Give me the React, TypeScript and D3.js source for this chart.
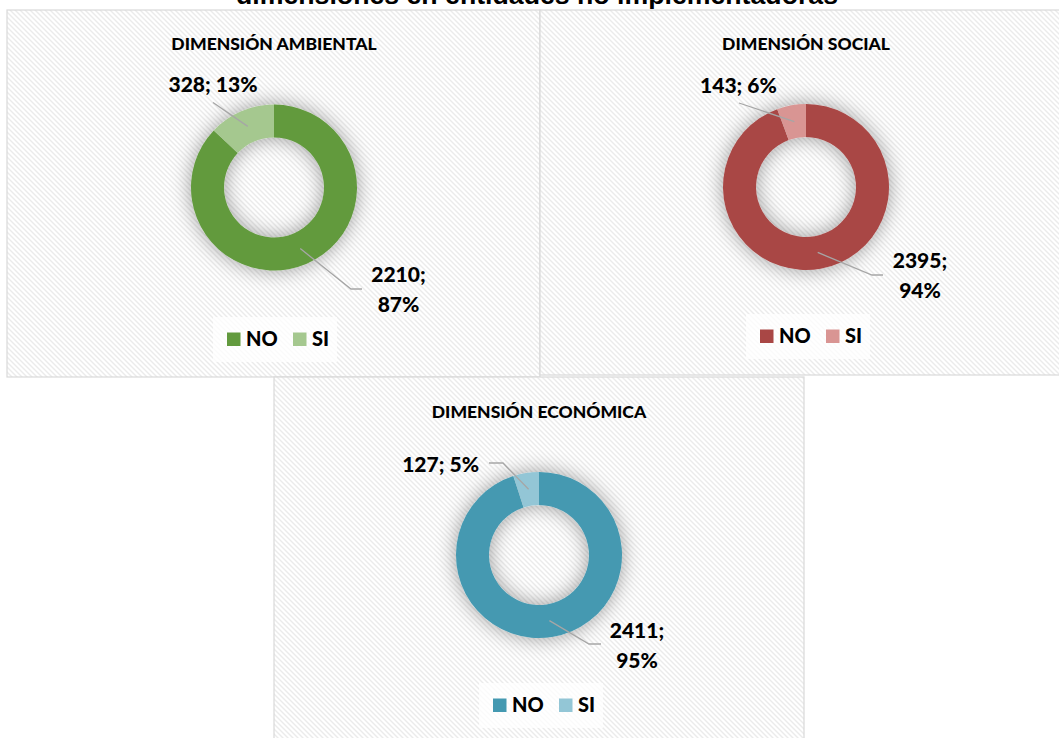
import * as d3 from "d3";

// Chart data
const mainTitle = "dimensiones en entidades no implementadoras";
const categories = ["NO", "SI"];
const panelTitles = ["DIMENSIÓN AMBIENTAL", "DIMENSIÓN SOCIAL", "DIMENSIÓN ECONÓMICA"];
const ambientalValues = [2210, 328];
const socialValues = [2395, 143];
const economicaValues = [2411, 127];
const ambientalColors = ["#629A3E", "#A5C88F"];
const socialColors = ["#A94745", "#D99593"];
const economicaColors = ["#4499B1", "#93C6D6"];

// Layout
const W = 1059;
const H = 738;
const OUTER = 83;
const INNER = 50;
const FONT = "Lato, 'Open Sans', sans-serif";

type Layout = {
  box: [number, number, number, number];
  cx: number;
  cy: number;
  titleY: number;
  siLeader: [number, number][];
  siLabel: { dx: number; dy: number; anchor: string };
  noLeader: [number, number][];
  noLabel: { dx: number; dy: number };
  legendY: number;
  legendX: number;
};

const layouts: Layout[] = [
  {
    box: [7, 10, 533, 367],
    cx: 274,
    cy: 187.5,
    titleY: 50,
    siLeader: [[-61, -85]],
    siLabel: { dx: -61, dy: -95.5, anchor: "middle" },
    noLeader: [[77, 101.5], [88, 101.5]],
    noLabel: { dx: 124.5, dy: 94.5 },
    legendY: 346,
    legendX: 227,
  },
  {
    box: [540, 10, 530, 365],
    cx: 806,
    cy: 187,
    titleY: 50,
    siLeader: [[-67, -84]],
    siLabel: { dx: -67.5, dy: -94, anchor: "middle" },
    noLeader: [[66, 88], [77, 88]],
    noLabel: { dx: 114, dy: 81 },
    legendY: 343,
    legendX: 760,
  },
  {
    box: [274, 377, 530, 370],
    cx: 539,
    cy: 555,
    titleY: 418,
    siLeader: [[-36, -92], [-50, -92]],
    siLabel: { dx: -60, dy: -83, anchor: "end" },
    noLeader: [[50, 89], [62, 89]],
    noLabel: { dx: 98, dy: 83 },
    legendY: 712,
    legendX: 493,
  },
];

const series = [ambientalValues, socialValues, economicaValues];
const palettes = [ambientalColors, socialColors, economicaColors];

const pie = d3.pie<number>().sort(null).value((d) => d);
const arc = d3.arc<d3.PieArcDatum<number>>().innerRadius(INNER).outerRadius(OUTER);
const midArc = d3
  .arc<d3.PieArcDatum<number>>()
  .innerRadius((INNER + OUTER) / 2)
  .outerRadius((INNER + OUTER) / 2);

function Panel({ idx }: { idx: number }) {
  const L = layouts[idx];
  const values = series[idx];
  const colors = palettes[idx];
  const total = d3.sum(values);
  const arcs = pie(values);
  const pct = (v: number) => `${Math.round((v / total) * 100)}%`;
  const [bx, by, bw, bh] = L.box;

  const noC = midArc.centroid(arcs[0]);
  const siC = midArc.centroid(arcs[1]);
  const line = d3.line();
  const siPath = line([siC, ...L.siLeader] as [number, number][]);
  const noPath = line([noC, ...L.noLeader] as [number, number][]);

  const legendScale = d3
    .scalePoint<string>()
    .domain(categories)
    .range([0, 66]);

  return (
    <g>
      <rect x={bx} y={by} width={bw} height={bh} fill="url(#hatch)" stroke="#D9D9D9" strokeWidth={1.2} />
      <text
        x={L.cx}
        y={L.titleY}
        textAnchor="middle"
        fontFamily={FONT}
        fontWeight={900}
        fontSize={17.5}
        fill="#000"
      >
        {panelTitles[idx]}
      </text>
      <g transform={`translate(${L.cx},${L.cy})`}>
        <g filter="url(#glow)">
          {arcs.map((a, i) => (
            <path key={i} d={arc(a) || ""} fill={colors[i]} />
          ))}
        </g>
        <path d={siPath || ""} fill="none" stroke="#A6A6A6" strokeWidth={1.3} />
        <path d={noPath || ""} fill="none" stroke="#A6A6A6" strokeWidth={1.3} />
        <text
          x={L.siLabel.dx}
          y={L.siLabel.dy}
          textAnchor={L.siLabel.anchor}
          fontFamily={FONT}
          fontWeight={900}
          fontSize={21}
          fill="#000"
        >
          {`${values[1]}; ${pct(values[1])}`}
        </text>
        <text
          textAnchor="middle"
          fontFamily={FONT}
          fontWeight={900}
          fontSize={21}
          fill="#000"
        >
          <tspan x={L.noLabel.dx} y={L.noLabel.dy}>{`${values[0]};`}</tspan>
          <tspan x={L.noLabel.dx} y={L.noLabel.dy + 30}>{pct(values[0])}</tspan>
        </text>
      </g>
      <rect
        x={L.legendX - 14}
        y={L.legendY - 29}
        width={124}
        height={45}
        fill="#fff"
        opacity={0.75}
      />
      {categories.map((c, i) => {
        const x = L.legendX + (legendScale(c) || 0);
        return (
          <g key={c}>
            <rect x={x} y={L.legendY - 13.5} width={13.5} height={13.5} fill={colors[i]} />
            <text
              x={x + 19}
              y={L.legendY}
              fontFamily={FONT}
              fontWeight={900}
              fontSize={20}
              fill="#000"
            >
              {c}
            </text>
          </g>
        );
      })}
    </g>
  );
}

export default function App() {
  return (
    <div style={{ position: "absolute", left: 0, top: 0, width: W, height: H }}>
      <svg width={W} height={H} style={{ display: "block" }}>
        <defs>
          <pattern id="hatch" patternUnits="userSpaceOnUse" width={5} height={5}>
            <rect width={5} height={5} fill="#fff" />
            <path d="M-1.25,-1.25 L6.25,6.25 M-1.25,3.75 L1.25,6.25 M3.75,-1.25 L6.25,1.25" stroke="#EBEBEB" strokeWidth={1.4} />
          </pattern>
          <filter id="glow" x="-50%" y="-50%" width="200%" height="200%">
            <feGaussianBlur in="SourceAlpha" stdDeviation={10} result="blur" />
            <feFlood floodColor="#000" floodOpacity={0.38} />
            <feComposite in2="blur" operator="in" result="shadow" />
            <feMerge>
              <feMergeNode in="shadow" />
              <feMergeNode in="SourceGraphic" />
            </feMerge>
          </filter>
        </defs>
        <rect width={W} height={H} fill="#fff" />
        <text
          x={537}
          y={4}
          textAnchor="middle"
          fontFamily="'Liberation Sans', Arial, sans-serif"
          fontWeight={700}
          fontSize={25}
          textLength={602}
          lengthAdjust="spacingAndGlyphs"
          fill="#000"
        >
          {mainTitle}
        </text>
        {layouts.map((_, i) => (
          <Panel key={i} idx={i} />
        ))}
      </svg>
    </div>
  );
}
